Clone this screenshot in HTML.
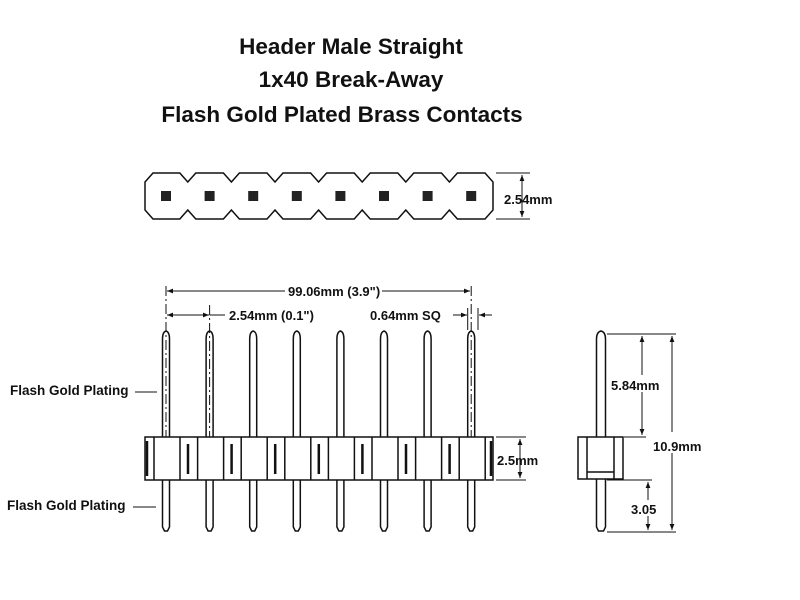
<!DOCTYPE html>
<html><head><meta charset="utf-8"><style>
html,body{margin:0;padding:0;background:#fff;}
svg{display:block;}
text{font-family:"Liberation Sans",sans-serif;font-weight:bold;fill:#111;}
</style></head><body>
<svg width="800" height="600" viewBox="0 0 800 600" xmlns="http://www.w3.org/2000/svg">
<defs>
<marker id="a" viewBox="0 0 10 10" refX="10" refY="5" markerWidth="6" markerHeight="6" orient="auto-start-reverse"><path d="M0,1 L10,5 L0,9 z" fill="#111"/></marker>
</defs>
<g text-anchor="middle" font-size="22.5">
<text x="351" y="54">Header Male Straight</text>
<text x="351" y="87">1x40 Break-Away</text>
<text x="342" y="122">Flash Gold Plated Brass Contacts</text>
</g>

<!-- top strip -->
<path fill="none" stroke="#111" stroke-width="1.5" d="M145,182 L153,173 L179.8,173 L187.8,182 L195.8,173 L223.4,173 L231.4,182 L239.4,173 L267,173 L275,182 L283,173 L310.6,173 L318.6,182 L326.6,173 L354.2,173 L362.2,182 L370.2,173 L397.8,173 L405.8,182 L413.8,173 L441.4,173 L449.4,182 L457.4,173 L485,173 L493,182 L493,210 L485,219 L457.4,219 L449.4,210 L441.4,219 L413.8,219 L405.8,210 L397.8,219 L370.2,219 L362.2,210 L354.2,219 L326.6,219 L318.6,210 L310.6,219 L283,219 L275,210 L267,219 L239.4,219 L231.4,210 L223.4,219 L195.8,219 L187.8,210 L179.8,219 L153,219 L145,210 Z"/>
<g fill="#222" stroke="none">
<rect x="161" y="191" width="10" height="10"/><rect x="204.6" y="191" width="10" height="10"/><rect x="248.2" y="191" width="10" height="10"/><rect x="291.8" y="191" width="10" height="10"/><rect x="335.4" y="191" width="10" height="10"/><rect x="379" y="191" width="10" height="10"/><rect x="422.6" y="191" width="10" height="10"/><rect x="466.2" y="191" width="10" height="10"/>
</g>
<g stroke="#111" stroke-width="1" fill="none">
<line x1="496" y1="173" x2="530" y2="173"/><line x1="496" y1="219" x2="530" y2="219"/>
<line x1="522" y1="175" x2="522" y2="217" marker-start="url(#a)" marker-end="url(#a)"/>
</g>
<text x="504" y="204" font-size="13">2.54mm</text>

<!-- pins front -->
<g fill="#fff" stroke="#111" stroke-width="1.5">
<path d="M162.5,437 V339 Q162.5,332 166,331 Q169.5,332 169.5,339 V437 M162.5,480 V527 L164.5,531 H167.5 L169.5,527 V480"/>
<path d="M206.1,437 V339 Q206.1,332 209.6,331 Q213.1,332 213.1,339 V437 M206.1,480 V527 L208.1,531 H211.1 L213.1,527 V480"/>
<path d="M249.7,437 V339 Q249.7,332 253.2,331 Q256.7,332 256.7,339 V437 M249.7,480 V527 L251.7,531 H254.7 L256.7,527 V480"/>
<path d="M293.3,437 V339 Q293.3,332 296.8,331 Q300.3,332 300.3,339 V437 M293.3,480 V527 L295.3,531 H298.3 L300.3,527 V480"/>
<path d="M336.9,437 V339 Q336.9,332 340.4,331 Q343.9,332 343.9,339 V437 M336.9,480 V527 L338.9,531 H341.9 L343.9,527 V480"/>
<path d="M380.5,437 V339 Q380.5,332 384,331 Q387.5,332 387.5,339 V437 M380.5,480 V527 L382.5,531 H385.5 L387.5,527 V480"/>
<path d="M424.1,437 V339 Q424.1,332 427.6,331 Q431.1,332 431.1,339 V437 M424.1,480 V527 L426.1,531 H429.1 L431.1,527 V480"/>
<path d="M467.7,437 V339 Q467.7,332 471.2,331 Q474.7,332 474.7,339 V437 M467.7,480 V527 L469.7,531 H472.7 L474.7,527 V480"/>
</g>
<!-- housing -->
<g fill="none" stroke="#111" stroke-width="1.5">
<rect x="145" y="437" width="348" height="43"/>
<path d="M154,437V480 M180,437V480 M197.6,437V480 M223.6,437V480 M241.2,437V480 M267.2,437V480 M284.8,437V480 M310.8,437V480 M328.4,437V480 M354.4,437V480 M372,437V480 M398,437V480 M415.6,437V480 M441.6,437V480 M459.2,437V480 M485.2,437V480"/>
<path stroke-width="2.5" d="M188,444V474 M231.6,444V474 M275.2,444V474 M318.8,444V474 M362.4,444V474 M406,444V474 M449.6,444V474 M147,441V476 M491,441V476"/>
</g>
<!-- center dashed -->
<g stroke="#111" stroke-width="1" stroke-dasharray="10,3,2,3">
<line x1="166" y1="286" x2="166" y2="437"/><line x1="209.6" y1="305" x2="209.6" y2="437"/><line x1="471.2" y1="286" x2="471.2" y2="437"/>
</g>
<g stroke="#111" stroke-width="1" fill="none">
<line x1="167" y1="291" x2="285" y2="291" marker-start="url(#a)"/>
<line x1="382" y1="291" x2="470" y2="291" marker-end="url(#a)"/>
<line x1="167" y1="315" x2="209" y2="315" marker-start="url(#a)" marker-end="url(#a)"/>
<line x1="209.6" y1="315" x2="225" y2="315"/>
<line x1="467.7" y1="308" x2="467.7" y2="330"/><line x1="478" y1="308" x2="478" y2="330"/>
<line x1="453" y1="315" x2="467" y2="315" marker-end="url(#a)"/>
<line x1="492" y1="315" x2="479" y2="315" marker-end="url(#a)"/>
<line x1="496" y1="437" x2="526" y2="437"/><line x1="496" y1="480" x2="526" y2="480"/>
<line x1="520" y1="439" x2="520" y2="478" marker-start="url(#a)" marker-end="url(#a)"/>
<line x1="135" y1="392" x2="157" y2="392"/><line x1="133" y1="507" x2="156" y2="507"/>
</g>
<text x="288" y="296" font-size="13">99.06mm (3.9")</text>
<text x="229" y="320" font-size="13">2.54mm (0.1")</text>
<text x="370" y="320" font-size="13">0.64mm SQ</text>
<text x="497" y="465" font-size="13">2.5mm</text>
<text x="10" y="395" font-size="13.5">Flash Gold Plating</text>
<text x="7" y="510" font-size="13.5">Flash Gold Plating</text>

<!-- side view -->
<g fill="#fff" stroke="#111" stroke-width="1.5">
<path d="M596.5,437 V339 Q596.5,332 601,331 Q605.5,332 605.5,339 V437 M596.5,479 V527 L598.5,531 H603.5 L605.5,527 V479"/>
<rect x="578" y="437" width="45" height="42"/>
<path fill="none" d="M587,437V479 M614,437V479 M587,472H614"/>
</g>
<g stroke="#111" stroke-width="1" fill="none">
<line x1="607" y1="334" x2="676" y2="334"/><line x1="624" y1="437" x2="646" y2="437"/>
<line x1="607" y1="480" x2="652" y2="480"/><line x1="607" y1="532" x2="676" y2="532"/>
<line x1="642" y1="336" x2="642" y2="375"/><line x1="642" y1="392" x2="642" y2="435" marker-end="url(#a)"/>
<line x1="642" y1="350" x2="642" y2="336" marker-end="url(#a)"/>
<line x1="672" y1="336" x2="672" y2="432" marker-start="url(#a)"/><line x1="672" y1="453" x2="672" y2="530" marker-end="url(#a)"/>
<line x1="648" y1="482" x2="648" y2="500" marker-start="url(#a)"/><line x1="648" y1="516" x2="648" y2="530" marker-end="url(#a)"/>
</g>
<text x="611" y="390" font-size="13">5.84mm</text>
<text x="653" y="451" font-size="13">10.9mm</text>
<text x="631" y="514" font-size="13">3.05</text>
</svg>
</body></html>
